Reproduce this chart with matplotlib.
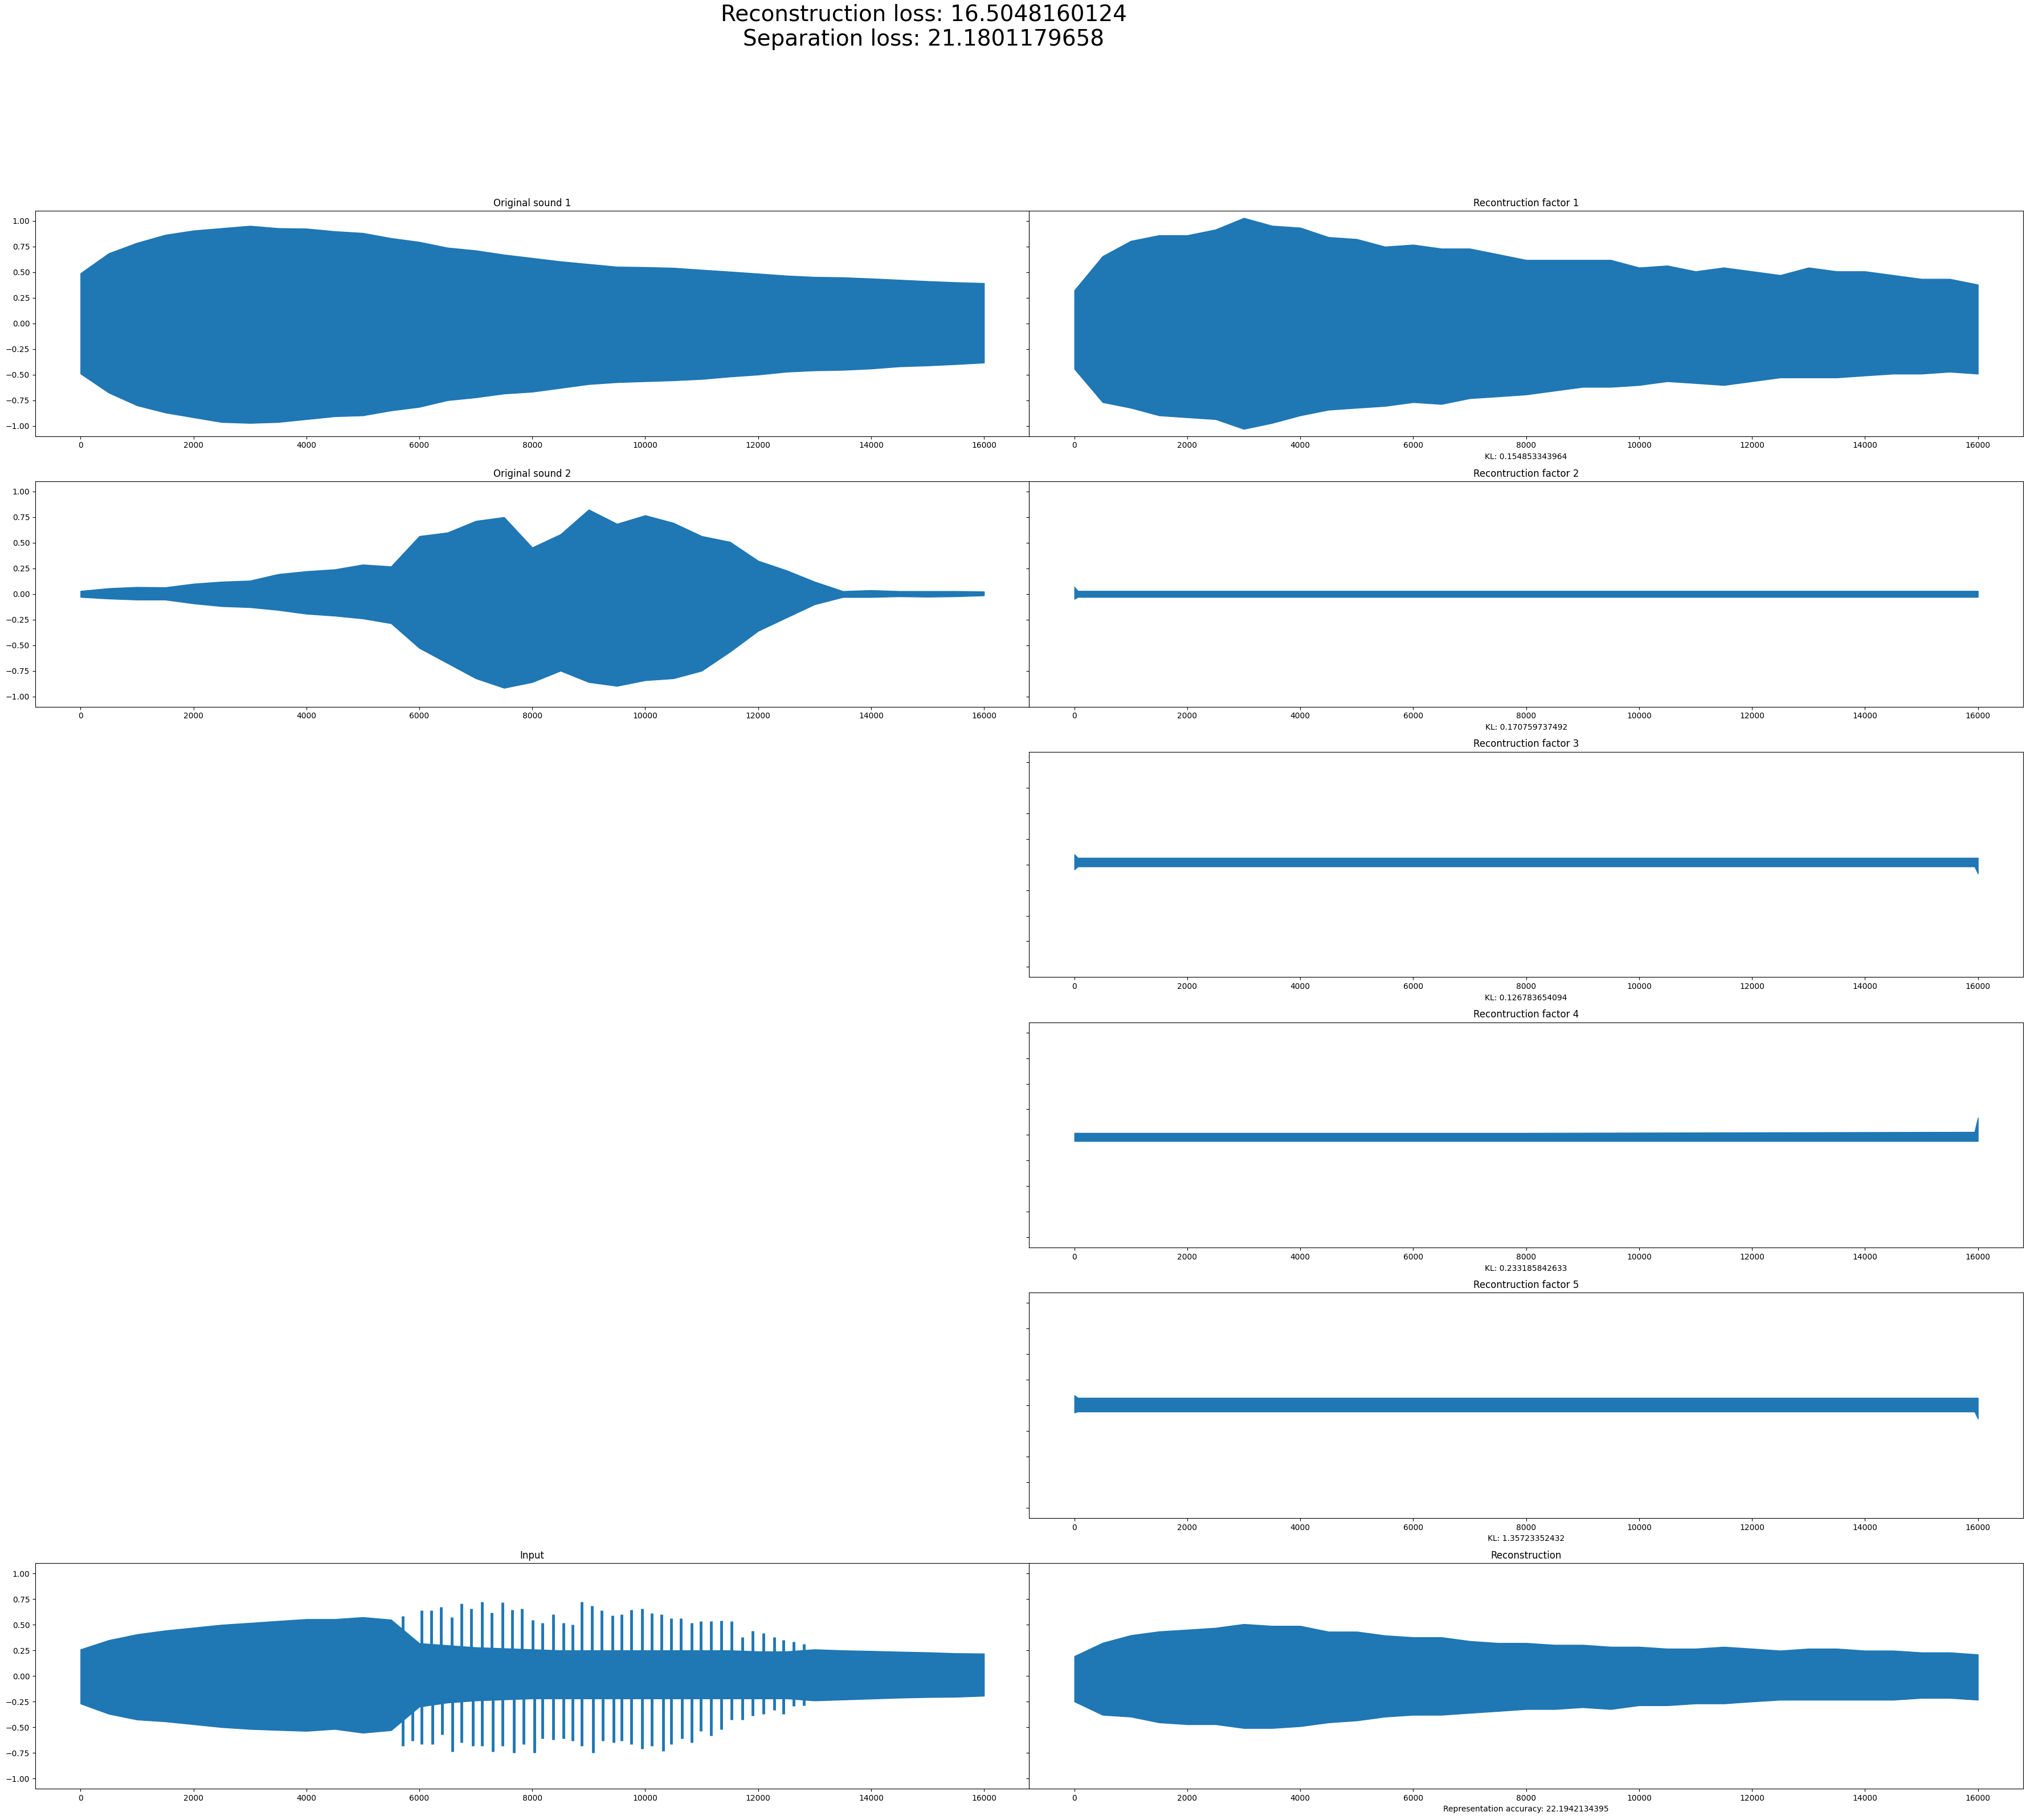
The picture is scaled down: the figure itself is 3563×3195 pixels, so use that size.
"""Source-separation report: originals, per-factor reconstructions, input and reconstruction."""
import matplotlib

matplotlib.use("Agg")
import matplotlib.pyplot as plt

WAVE = "#1f77b4"

# envelope sample positions (every 500 samples of the 16000-sample clips)
SAMPLES = list(range(0, 16001, 500))

ORIG1_UP = [0.49, 0.685, 0.787, 0.865, 0.907, 0.93, 0.953, 0.93, 0.926, 0.90, 0.883, 0.833,
            0.796, 0.74, 0.713, 0.672, 0.639, 0.606, 0.58, 0.554, 0.55, 0.543, 0.524, 0.506,
            0.487, 0.467, 0.454, 0.45, 0.439, 0.426, 0.413, 0.402, 0.394]
ORIG1_LO = [-0.49, -0.676, -0.80, -0.87, -0.917, -0.963, -0.972, -0.963, -0.935, -0.907, -0.898,
            -0.85, -0.815, -0.75, -0.722, -0.685, -0.667, -0.63, -0.593, -0.574, -0.565, -0.556,
            -0.543, -0.519, -0.50, -0.472, -0.459, -0.454, -0.441, -0.42, -0.411, -0.398, -0.383]

ORIG2_UP = [0.03, 0.056, 0.068, 0.065, 0.10, 0.12, 0.13, 0.194, 0.222, 0.24, 0.287, 0.269,
            0.565, 0.60, 0.713, 0.75, 0.454, 0.583, 0.824, 0.685, 0.768, 0.694, 0.565, 0.509,
            0.324, 0.231, 0.12, 0.028, 0.037, 0.028, 0.028, 0.028, 0.024]
ORIG2_LO = [-0.03, -0.046, -0.056, -0.056, -0.093, -0.12, -0.13, -0.157, -0.194, -0.213, -0.24,
            -0.287, -0.528, -0.676, -0.824, -0.917, -0.861, -0.75, -0.861, -0.898, -0.843, -0.824,
            -0.75, -0.565, -0.361, -0.231, -0.102, -0.031, -0.031, -0.024, -0.028, -0.024, -0.015]

# input: dense core envelope plus the individual tall cycles in the middle
INPUT_UP = [0.26, 0.35, 0.407, 0.444, 0.472, 0.50, 0.518, 0.537, 0.555, 0.555, 0.574, 0.55,
            0.32, 0.30, 0.28, 0.27, 0.26, 0.25, 0.25, 0.25, 0.25, 0.25, 0.25, 0.25,
            0.24, 0.24, 0.26, 0.25, 0.244, 0.237, 0.231, 0.222, 0.219]
INPUT_LO = [-0.27, -0.37, -0.426, -0.444, -0.472, -0.50, -0.518, -0.528, -0.537, -0.518, -0.555,
            -0.53, -0.30, -0.26, -0.24, -0.23, -0.22, -0.22, -0.22, -0.22, -0.22, -0.22,
            -0.22, -0.22, -0.22, -0.22, -0.24, -0.231, -0.222, -0.213, -0.207, -0.204, -0.194]
SPIKE_UP_X = [5708, 6045, 6214, 6382, 6573, 6742, 6921, 7112, 7281, 7472, 7640, 7820, 8011, 8180,
              8371, 8551, 8719, 8876, 9056, 9225, 9416, 9584, 9753, 9944, 10112, 10292, 10461,
              10629, 10820, 10989, 11169, 11348, 11528, 11719, 11899, 12090, 12281, 12449,
              12629, 12809]
SPIKE_UP = [0.583, 0.639, 0.639, 0.676, 0.574, 0.707, 0.657, 0.726, 0.62, 0.719, 0.648, 0.657,
            0.546, 0.519, 0.602, 0.519, 0.5, 0.722, 0.685, 0.639, 0.593, 0.602, 0.648, 0.657,
            0.611, 0.602, 0.565, 0.565, 0.519, 0.537, 0.537, 0.541, 0.537, 0.38, 0.441, 0.417,
            0.38, 0.352, 0.333, 0.315]
SPIKE_LO_X = [5708, 5876, 6045, 6236, 6405, 6584, 6742, 6944, 7112, 7303, 7472, 7674, 7843, 8034,
              8180, 8371, 8551, 8719, 8876, 9079, 9247, 9438, 9584, 9753, 9944, 10112, 10315,
              10461, 10652, 10820, 10989, 11169, 11348, 11528, 11719, 11899, 12090, 12281,
              12449, 12629, 12809]
SPIKE_LO = [-0.685, -0.63, -0.667, -0.667, -0.574, -0.741, -0.648, -0.685, -0.685, -0.741, -0.685,
            -0.75, -0.667, -0.75, -0.611, -0.62, -0.611, -0.63, -0.685, -0.75, -0.63, -0.648,
            -0.63, -0.667, -0.713, -0.685, -0.731, -0.667, -0.611, -0.648, -0.537, -0.583,
            -0.519, -0.426, -0.426, -0.389, -0.37, -0.333, -0.37, -0.296, -0.287]

FAC1_UP = [0.324, 0.657, 0.806, 0.861, 0.861, 0.917, 1.03, 0.954, 0.935, 0.843, 0.824, 0.75,
           0.769, 0.731, 0.731, 0.676, 0.62, 0.62, 0.62, 0.62, 0.546, 0.565, 0.509, 0.546,
           0.509, 0.472, 0.546, 0.509, 0.509, 0.472, 0.435, 0.435, 0.38]
FAC1_LO = [-0.444, -0.769, -0.824, -0.898, -0.917, -0.935, -1.03, -0.972, -0.898, -0.843, -0.824,
           -0.806, -0.769, -0.787, -0.731, -0.713, -0.694, -0.657, -0.62, -0.62, -0.602, -0.565,
           -0.583, -0.602, -0.565, -0.528, -0.528, -0.528, -0.509, -0.491, -0.491, -0.472, -0.491]

RECON_UP = [0.194, 0.324, 0.398, 0.435, 0.452, 0.47, 0.507, 0.489, 0.489, 0.433, 0.433, 0.396,
            0.378, 0.378, 0.341, 0.322, 0.322, 0.304, 0.304, 0.285, 0.285, 0.267, 0.267, 0.285,
            0.267, 0.248, 0.267, 0.267, 0.248, 0.248, 0.23, 0.23, 0.211]
RECON_LO = [-0.25, -0.38, -0.398, -0.454, -0.472, -0.472, -0.509, -0.509, -0.491, -0.454, -0.435,
            -0.398, -0.38, -0.38, -0.361, -0.343, -0.324, -0.324, -0.306, -0.324, -0.287, -0.287,
            -0.269, -0.269, -0.25, -0.233, -0.233, -0.233, -0.233, -0.233, -0.215, -0.215, -0.233]

# the near-silent factors: onset, body and tail
FLAT_X = [0, 60, 8000, 15940, 16000]
FAC2_UP = [0.07, 0.03, 0.03, 0.03, 0.03]
FAC2_LO = [-0.05, -0.03, -0.03, -0.03, -0.03]
FAC3_UP = [0.10, 0.065, 0.065, 0.065, 0.065]
FAC3_LO = [-0.05, -0.02, -0.02, -0.02, -0.09]
FAC4_UP = [0.02, 0.02, 0.02, 0.03, 0.17]
FAC4_LO = [-0.06, -0.06, -0.06, -0.06, -0.06]
FAC5_UP = [0.10, 0.075, 0.075, 0.075, 0.075]
FAC5_LO = [-0.07, -0.06, -0.06, -0.06, -0.13]

KL = ["0.154853343964", "0.170759737492", "0.126783654094", "0.233185842633", "1.35723352432"]
RECON_LOSS = "16.5048160124"
SEP_LOSS = "21.1801179658"
REP_ACC = "22.1942134395"


def wave(ax, x, up, lo):
    ax.fill_between(x, lo, up, color=WAVE, lw=1.0, edgecolor=WAVE)


def main():
    fig, axes = plt.subplots(6, 2, figsize=(35.63, 31.95), sharey=True)
    fig.subplots_adjust(left=0.0174, right=0.9966, top=0.8842, bottom=0.0172,
                        wspace=0, hspace=0.2)

    wave(axes[0, 0], SAMPLES, ORIG1_UP, ORIG1_LO)
    axes[0, 0].set_title("Original sound 1")
    wave(axes[1, 0], SAMPLES, ORIG2_UP, ORIG2_LO)
    axes[1, 0].set_title("Original sound 2")

    factors = [(SAMPLES, FAC1_UP, FAC1_LO), (FLAT_X, FAC2_UP, FAC2_LO),
               (FLAT_X, FAC3_UP, FAC3_LO), (FLAT_X, FAC4_UP, FAC4_LO),
               (FLAT_X, FAC5_UP, FAC5_LO)]
    for i, (x, up, lo) in enumerate(factors):
        ax = axes[i, 1]
        wave(ax, x, up, lo)
        ax.set_title(f"Recontruction factor {i + 1}")
        ax.set_xlabel(f"KL: {KL[i]}")

    for r in (2, 3, 4):
        axes[r, 0].axis("off")

    ax = axes[5, 0]
    wave(ax, SAMPLES, INPUT_UP, INPUT_LO)
    ax.vlines(SPIKE_UP_X, 0, SPIKE_UP, color=WAVE, lw=3.5)
    ax.vlines(SPIKE_LO_X, SPIKE_LO, 0, color=WAVE, lw=3.5)
    ax.set_title("Input")
    wave(axes[5, 1], SAMPLES, RECON_UP, RECON_LO)
    axes[5, 1].set_title("Reconstruction")
    axes[5, 1].set_xlabel(f"Representation accuracy: {REP_ACC}")

    for ax in axes.flat:
        ax.set_xlim(-800, 16800)
        ax.set_xticks(range(0, 16001, 2000))
    axes[0, 0].set_ylim(-1.1, 1.1)
    axes[0, 0].set_yticks([-1, -0.75, -0.5, -0.25, 0, 0.25, 0.5, 0.75, 1])
    axes[0, 0].yaxis.set_major_formatter(plt.FuncFormatter(lambda v, _: f"{v:.2f}".replace("-", "\u2212")))

    fig.suptitle(f"Reconstruction loss: {RECON_LOSS}\nSeparation loss: {SEP_LOSS}",
                 fontsize=28, x=0.455, y=0.998)

    fig.savefig("out.png", dpi=100)
    plt.close(fig)


if __name__ == "__main__":
    main()
